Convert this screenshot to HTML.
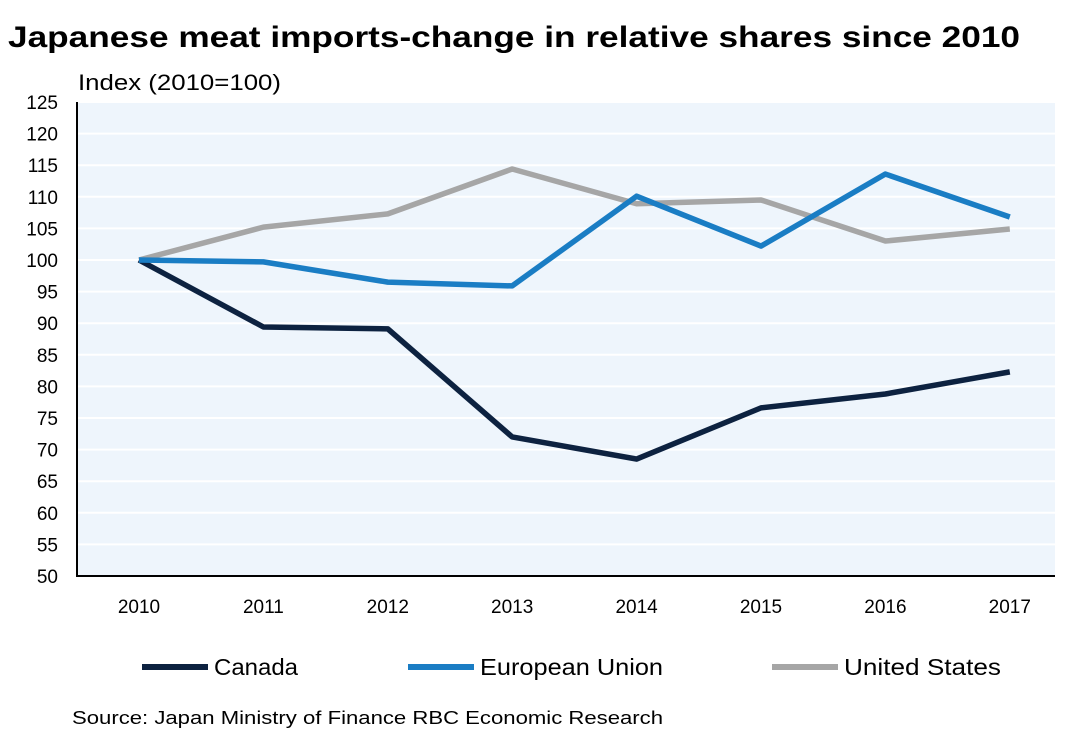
<!DOCTYPE html>
<html><head><meta charset="utf-8"><style>
body{margin:0;background:#fff;width:1079px;height:733px;overflow:hidden;font-family:"Liberation Sans",sans-serif}
</style></head><body>
<svg width="1079" height="733" xmlns="http://www.w3.org/2000/svg">
<text x="8" y="47" font-size="30" font-weight="bold" fill="#000" textLength="1012" lengthAdjust="spacingAndGlyphs">Japanese meat imports-change in relative shares since 2010</text>
<text x="78" y="90" font-size="22" fill="#000" textLength="203" lengthAdjust="spacingAndGlyphs">Index (2010=100)</text>
<rect x="77" y="102" width="978" height="474" fill="#eef5fc"/>
<g id="grid"></g><g id="yt"></g><g id="xt"></g><g id="lines"></g>
<line x1="77" y1="102" x2="77" y2="576" stroke="#000" stroke-width="2"/>
<line x1="76" y1="576" x2="1055" y2="576" stroke="#000" stroke-width="2"/>
<g>
<line x1="142" y1="667" x2="208" y2="667" stroke="#0d2240" stroke-width="6"/>
<text x="214" y="675" font-size="23" textLength="84" lengthAdjust="spacingAndGlyphs">Canada</text>
<line x1="408" y1="667" x2="474" y2="667" stroke="#1a7dc4" stroke-width="6"/>
<text x="480" y="675" font-size="23" textLength="183" lengthAdjust="spacingAndGlyphs">European Union</text>
<line x1="772" y1="667" x2="838" y2="667" stroke="#a6a6a6" stroke-width="6"/>
<text x="844" y="675" font-size="23" textLength="157" lengthAdjust="spacingAndGlyphs">United States</text>
</g>
<text x="72" y="724" font-size="18" textLength="591" lengthAdjust="spacingAndGlyphs">Source: Japan Ministry of Finance RBC Economic Research</text>
</svg>
<script>
const years=["2010","2011","2012","2013","2014","2015","2016","2017"];
const canada=[100,89.4,89.1,72,68.5,76.6,78.8,82.3];
const eu=[100,99.7,96.5,95.9,110.1,102.2,113.6,106.8];
const us=[100,105.2,107.3,114.4,108.9,109.5,103,104.9];
const yTicks=[50,55,60,65,70,75,80,85,90,95,100,105,110,115,120,125];
const NS="http://www.w3.org/2000/svg";
const y=v=>576-(v-50)/75*474;
const x=i=>139+i*124.4;
function mk(t,a,p){const e=document.createElementNS(NS,t);for(const k in a)e.setAttribute(k,a[k]);p.appendChild(e);return e;}
const grid=document.getElementById('grid'),yt=document.getElementById('yt'),xt=document.getElementById('xt'),lines=document.getElementById('lines');
yTicks.forEach(v=>{
 if(v>50){const g=mk('line',{x1:77,x2:1055,y1:y(v),y2:y(v),stroke:'#fff','stroke-width':2},grid);
 
 }
 const t=mk('text',{x:58,y:y(v)+7,'font-size':19,'text-anchor':'end'},yt);t.textContent=v;
 
 
});
years.forEach((yr,i)=>{const t=mk('text',{x:x(i),y:613,'font-size':19,'text-anchor':'middle'},xt);t.textContent=yr;
 
 });
[[canada,'#0d2240','line-canada'],[us,'#a6a6a6','line-us'],[eu,'#1a7dc4','line-eu']].forEach(([d,c,n])=>{
 const p=mk('polyline',{points:d.map((v,i)=>x(i)+','+y(v)).join(' '),fill:'none',stroke:c,'stroke-width':5.5,'stroke-linejoin':'round'},lines);
 
 
});
</script>
</body></html>
